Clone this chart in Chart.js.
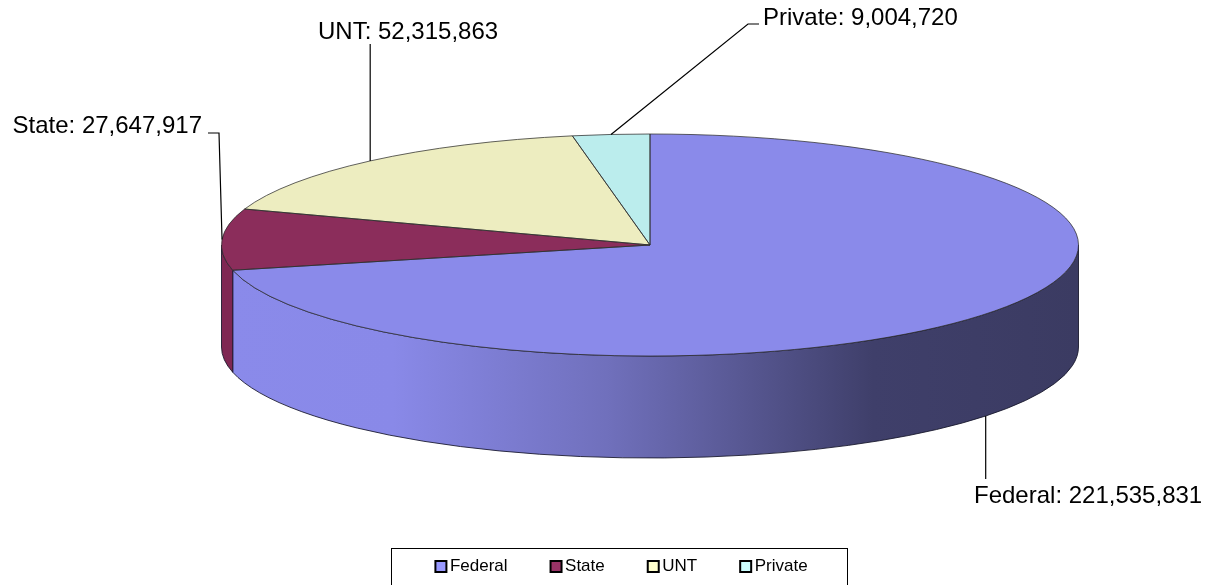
<!DOCTYPE html>
<html>
<head>
<meta charset="utf-8">
<script src="https://cdn.jsdelivr.net/npm/chart.js@4.4.0/dist/chart.umd.min.js"></script>
<style>
    html, body { margin: 0; padding: 0; background: #fff; }
    #contenedor { width: 1213px; height: 585px; position: relative; }
</style>
</head>
<body>
<div id="contenedor"><canvas id="graficaPastel"></canvas></div>
<script>
// 🔹 Datos
const categorias = ['Federal', 'State', 'UNT', 'Private'];
const montos = [221535831, 27647917, 52315863, 9004720];

// 🔹 Estilos
const coloresTapa = ['#8a8aea', '#8b2d5b', '#ededc0', '#bbeded'];
const coloresLeyenda = ['#9999ff', '#993366', '#ffffcc', '#ccffff'];
const ladoState = '#7f2753';
const fuente = "'Liberation Sans', Arial, sans-serif";

// 🔹 Vista 3D (elipse en pantalla)
const CENTRO_X = 650;
const CENTRO_Y = 245;
const RADIO_X = 428.5;
const RADIO_Y = 111;
const PROFUNDIDAD = 102;

// 🔹 Posición de las etiquetas y sus guías
const posEtiquetas = [
    { x: 974, y: 503, alinear: 'left', quiebres: [[null, 479]] },
    { x: 202, y: 133, alinear: 'right', quiebres: [[219, 133], [208, 133]] },
    { x: 318, y: 39, alinear: 'left', quiebres: [[null, 44]] },
    { x: 763, y: 25, alinear: 'left', quiebres: [[748, 24], [759, 24]] }
];

function aplicarVista(ctx, arc) {
    ctx.translate(CENTRO_X, CENTRO_Y);
    ctx.scale(RADIO_X / arc.outerRadius, 1);
    ctx.translate(-arc.x, -arc.y);
}

function trazoPantalla(ctx, chart, color, ancho) {
    const dpr = chart.currentDevicePixelRatio;
    ctx.save();
    ctx.setTransform(dpr, 0, 0, dpr, 0, 0);
    ctx.strokeStyle = color;
    ctx.lineWidth = ancho;
    ctx.stroke();
    ctx.restore();
}

function rellenoLado(ctx, arc, i) {
    if (i !== 0) return ladoState;
    const g = ctx.createLinearGradient(arc.x - arc.outerRadius, 0, arc.x + arc.outerRadius, 0);
    g.addColorStop(0, '#8a8aea');
    g.addColorStop(0.2, '#8989e8');
    g.addColorStop(0.45, '#7070bc');
    g.addColorStop(0.58, '#5c5c9a');
    g.addColorStop(0.76, '#3f3f6a');
    g.addColorStop(1, '#3b3b62');
    return g;
}

function proyectar(arc, ang, bajar) {
    return {
        x: CENTRO_X + RADIO_X * Math.cos(ang),
        y: CENTRO_Y + arc.outerRadius * Math.sin(ang) + (bajar ? PROFUNDIDAD : 0)
    };
}

const vista3D = {
    id: 'vista3D',
    beforeDatasetsDraw(chart) {
        const ctx = chart.ctx;
        const arcs = chart.getDatasetMeta(0).data;
        if (!arcs.length) return;
        ctx.save();
        aplicarVista(ctx, arcs[0]);
        // paredes del frente
        arcs.forEach((arc, i) => {
            const a = Math.max(arc.startAngle, 0);
            const b = Math.min(arc.endAngle, Math.PI);
            if (b <= a) return;
            ctx.beginPath();
            ctx.arc(arc.x, arc.y, arc.outerRadius, a, b);
            ctx.arc(arc.x, arc.y + PROFUNDIDAD, arc.outerRadius, b, a, true);
            ctx.closePath();
            ctx.fillStyle = rellenoLado(ctx, arc, i);
            ctx.fill();
            trazoPantalla(ctx, chart, 'rgba(20,20,40,0.85)', 1);
        });
    },
    afterDatasetsDraw(chart) {
        const ctx = chart.ctx;
        const arcs = chart.getDatasetMeta(0).data;
        if (!arcs.length) return;
        arcs.forEach(arc => {
            ctx.beginPath();
            ctx.moveTo(arc.x, arc.y);
            ctx.arc(arc.x, arc.y, arc.outerRadius, arc.startAngle, arc.endAngle);
            ctx.closePath();
            trazoPantalla(ctx, chart, 'rgba(45,45,45,0.75)', 1);
        });
        ctx.restore();
    }
};

const etiquetas = {
    id: 'etiquetas',
    afterDraw(chart) {
        const ctx = chart.ctx;
        const arcs = chart.getDatasetMeta(0).data;
        ctx.save();
        ctx.font = '24px ' + fuente;
        ctx.fillStyle = '#000';
        ctx.strokeStyle = '#000';
        ctx.lineWidth = 1.2;
        arcs.forEach((arc, i) => {
            const pos = posEtiquetas[i];
            const medio = (arc.startAngle + arc.endAngle) / 2;
            const p = proyectar(arc, medio, Math.sin(medio) > 0);
            ctx.beginPath();
            ctx.moveTo(p.x, p.y);
            pos.quiebres.forEach(q => ctx.lineTo(q[0] === null ? p.x : q[0], q[1]));
            ctx.stroke();
            ctx.textAlign = pos.alinear;
            ctx.textBaseline = 'alphabetic';
            ctx.fillText(categorias[i] + ': ' + montos[i].toLocaleString('en-US'), pos.x, pos.y);
        });

        // recuadro de la leyenda
        const hb = chart.legend.legendHitBoxes;
        if (hb && hb.length) {
            const izq = hb[0].left - 49;
            const ult = hb[hb.length - 1];
            const der = ult.left + ult.width + 40;
            const arriba = hb[0].top - 10;
            ctx.lineWidth = 1;
            ctx.strokeRect(Math.round(izq) + 0.5, Math.round(arriba) + 0.5, Math.round(der - izq), chart.height - arriba + 10);
        }
        ctx.restore();
    }
};

new Chart(document.getElementById('graficaPastel'), {
    type: 'pie',
    data: {
        labels: categorias,
        datasets: [{
            data: montos,
            backgroundColor: coloresTapa,
            borderWidth: 0,
            radius: RADIO_Y,
            clip: false
        }]
    },
    options: {
        responsive: true,
        maintainAspectRatio: false,
        animation: false,
        events: [],
        layout: { padding: { left: 35 } },
        plugins: {
            tooltip: { enabled: false },
            legend: {
                position: 'bottom',
                labels: {
                    font: { family: fuente, size: 17 },
                    color: '#000',
                    usePointStyle: true,
                    pointStyle: 'rect',
                    boxWidth: 1,
                    boxHeight: 11,
                    padding: 48,
                    generateLabels(chart) {
                        const items = Chart.overrides.pie.plugins.legend.labels.generateLabels(chart);
                        return items.map((it, i) => ({
                            ...it,
                            fillStyle: coloresLeyenda[i],
                            strokeStyle: '#000',
                            lineWidth: 2,
                            pointStyle: 'rect'
                        }));
                    }
                }
            }
        }
    },
    plugins: [vista3D, etiquetas]
});
</script>
</body>
</html>
